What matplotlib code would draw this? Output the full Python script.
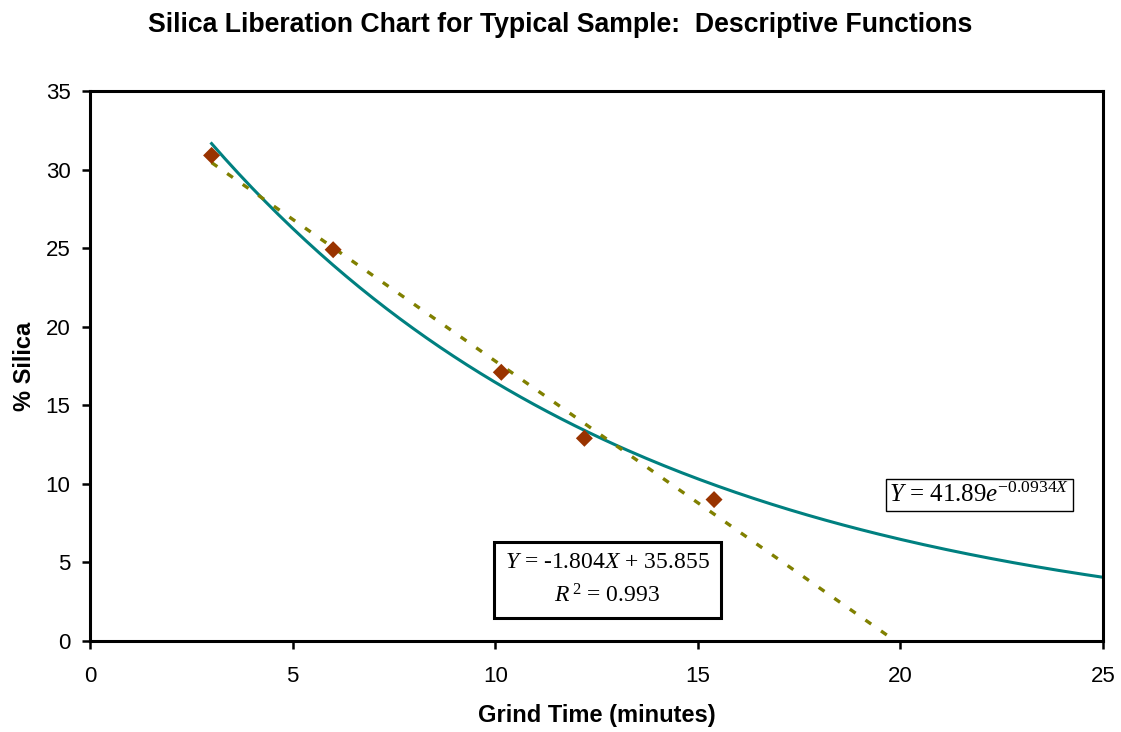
import matplotlib
matplotlib.use("Agg")
import matplotlib.pyplot as plt
import numpy as np

# measured points
grind_time = [3.0, 6.0, 10.15, 12.2, 15.4]
silica_pct = [30.9, 24.9, 17.1, 12.9, 9.0]

# trendline coefficients (as printed on the chart)
lin_slope, lin_icpt = -1.804, 35.855
lin_range = (3.0, 19.7)
exp_a, exp_b = 41.89, -0.0934
exp_range = (3.0, 25.0)

x_ticks = [0, 5, 10, 15, 20, 25]
y_ticks = [0, 5, 10, 15, 20, 25, 30, 35]

plt.rcParams["font.family"] = ["Liberation Sans", "DejaVu Sans"]
plt.rcParams["mathtext.fontset"] = "custom"
plt.rcParams["mathtext.rm"] = "Liberation Serif"
plt.rcParams["mathtext.it"] = "Liberation Serif:italic"

fig = plt.figure(figsize=(11.21, 7.32), dpi=100)
ax = fig.add_axes([0.0803, 0.1243, 0.9037, 0.7514])

xe = np.linspace(*exp_range, 200)
ax.plot(xe, exp_a * np.exp(exp_b * xe), color="#008080", lw=2.2, zorder=2)

xl = np.array(lin_range)
ax.plot(xl, lin_slope * xl + lin_icpt, color="#808000", lw=2.4,
        linestyle=(0, (2.1, 3.6)), dash_capstyle="butt", zorder=3)

ax.scatter(grind_time, silica_pct, marker="D", s=75, color="#993300",
           edgecolors="none", zorder=4)

ax.set_xlim(0, 25)
ax.set_ylim(0, 35)
ax.set_xticks(x_ticks)
ax.set_yticks(y_ticks)
ax.tick_params(direction="out", length=6, width=1.8, labelsize=16)
ax.tick_params(axis="x", pad=12)
ax.tick_params(axis="y", pad=8)
for sp in ax.spines.values():
    sp.set_linewidth(2.2)

ax.set_xlabel("Grind Time (minutes)", fontsize=17, fontweight="bold", labelpad=12)
ax.set_ylabel("% Silica", fontsize=17, fontweight="bold", labelpad=7)
fig.suptitle("Silica Liberation Chart for Typical Sample:  Descriptive Functions",
             fontsize=19.2, fontweight="bold", y=0.984)

ax.text(12.77, 3.88, "$Y$ = -1.804$X$ + 35.855\n$R^{\\,2}$ = 0.993",
        family="Liberation Serif", fontsize=17, ha="center", va="center",
        linespacing=1.6,
        bbox=dict(boxstyle="square,pad=0.45", fc="white", ec="black", lw=2.2),
        zorder=5)
ax.text(21.95, 9.29, "$Y$ = 41.89$e^{-0.0934X}$",
        family="Liberation Serif", fontsize=18, ha="center", va="center",
        bbox=dict(boxstyle="square,pad=0.15", fc="white", ec="black", lw=1.0),
        zorder=5)

fig.savefig("out.png", dpi=100)
